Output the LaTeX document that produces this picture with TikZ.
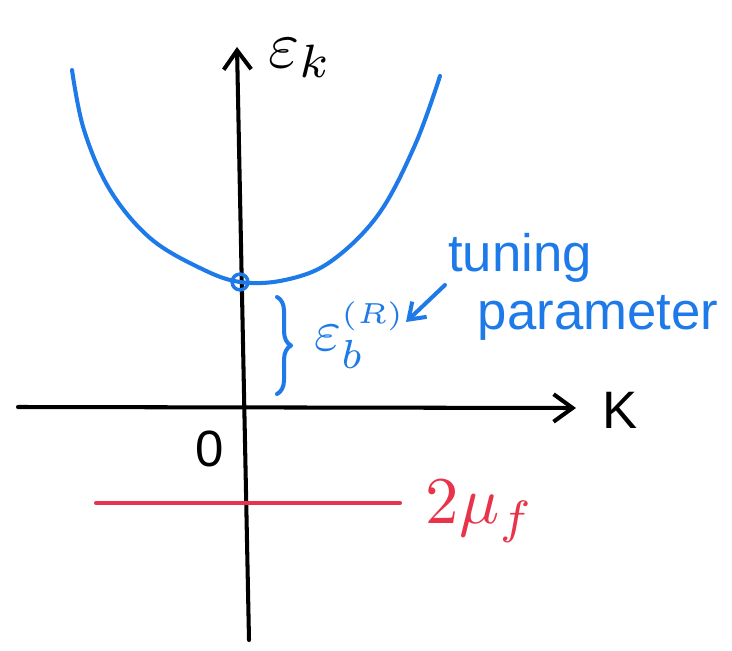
\documentclass[tikz,border=0pt]{standalone}
\usepackage{fontspec}
\setmainfont{Liberation Sans}
\usetikzlibrary{arrows.meta,decorations.pathreplacing}
\definecolor{penblue}{RGB}{30,122,232}
\definecolor{penred}{RGB}{232,52,74}
\tikzset{
  axis/.style={line width=2.3pt,line cap=round,line join=round,-{Straight Barb[length=0.38cm,width=0.55cm,line width=2.3pt]}},
  bluepen/.style={penblue,line width=2.3pt,line cap=round,line join=round},
  redpen/.style={penred,line width=2.3pt,line cap=round},
  lbl/.style={inner sep=0pt,anchor=center},
}
\begin{document}
\begin{tikzpicture}[x=0.02cm,y=-0.02cm]
\useasboundingbox (0,0) rectangle (732,651);
% axes
\coordinate (ybot) at (249,640);
\coordinate (ytop) at (237,47);
\coordinate (xleft) at (18,407);
\coordinate (xright) at (576,408);
\draw[axis] (ybot) -- (ytop);
\draw[axis] (xleft) -- (xright);
% labels
\node[lbl] (ek) at (300,58) {\scalebox{3.8}{$\varepsilon_{k}$}};
\node[lbl] (kl) at (620,410) {\fontsize{30}{32}\selectfont K};
\node[lbl] (zero) at (210,449) {\fontsize{29}{31}\selectfont 0};
% parabola
\draw[bluepen] plot[smooth,tension=0.6] coordinates {(72,70) (84,130) (110,190) (150,238) (200,268) (240,282) (285,280) (330,262) (378,215) (415,145) (440,76)};
\node[draw=penblue,line width=2pt,circle,minimum size=9pt,inner sep=0pt] (dot) at (240,282) {};
% brace
\coordinate (bt) at (277,297);
\coordinate (bb) at (277,394);
\draw[bluepen,decorate,decoration={brace,amplitude=8pt}] (bt) -- (bb);
\node[lbl,text=penblue] (eb) at (360,335) {\scalebox{3.3}{$\varepsilon_{b}^{\scriptscriptstyle(R)}$}};
% tuning parameter
\node[lbl,text=penblue] (tun) at (520,258) {\fontsize{30}{32}\selectfont tuning};
\node[lbl,text=penblue] (par) at (598,318) {\fontsize{30}{32}\selectfont parameter};
\coordinate (arrs) at (445,285);
\coordinate (arre) at (406,322);
\draw[bluepen,-{Straight Barb[length=0.3cm,width=0.42cm,line width=2.3pt]}] (arrs) -- (arre);
% red line
\coordinate (rl) at (96,503);
\coordinate (rr) at (400,503);
\draw[redpen] (rl) -- (rr);
\node[lbl,text=penred] (mu) at (480,512) {\scalebox{3.8}{$2\mu_{f}$}};
\end{tikzpicture}
\end{document}
